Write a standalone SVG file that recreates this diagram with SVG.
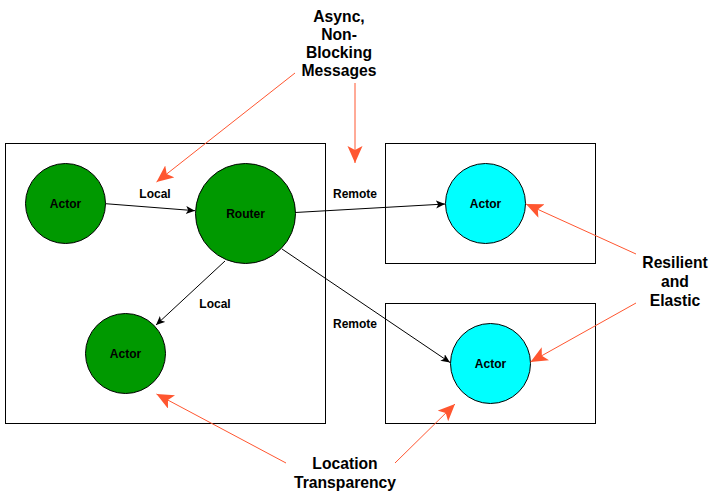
<svg xmlns="http://www.w3.org/2000/svg" width="714" height="497" viewBox="0 0 714 497">
<defs>
<style>
.box{fill:#fff;stroke:#000;stroke-width:1}
.green{fill:#009900;stroke:#000;stroke-width:1}
.cyan{fill:#00ffff;stroke:#000;stroke-width:1}
.lbl{font-family:"Liberation Sans",Arial,sans-serif;font-weight:bold;font-size:12px;fill:#000;text-anchor:middle}
.big{font-family:"Liberation Sans",Arial,sans-serif;font-weight:bold;font-size:15.7px;fill:#000;text-anchor:middle}
.conn{stroke:#000;stroke-width:1;fill:none;marker-end:url(#blk)}
.note{stroke:#FF5630;stroke-width:1;fill:none;marker-end:url(#org)}
</style>
<marker id="blk" markerUnits="userSpaceOnUse" markerWidth="12" markerHeight="12" refX="9" refY="4" orient="auto">
<path d="M0,0 L9,4 L0,8 L2.2,4 Z" fill="#000"/>
</marker>
<marker id="org" markerUnits="userSpaceOnUse" markerWidth="20" markerHeight="18" refX="17" refY="7.5" orient="auto">
<path d="M0,0 L17,7.5 L0,15 L4,7.5 Z" fill="#FF5630"/>
</marker>
</defs>
<rect x="0" y="0" width="714" height="497" fill="#fff"/>
<g id="boxes">
<rect id="box-local" class="box" x="5.5" y="143.5" width="320" height="280"/>
<rect id="box-remote1" class="box" x="385.5" y="143.5" width="210" height="120"/>
<rect id="box-remote2" class="box" x="385.5" y="303.5" width="210" height="120"/>
</g>
<g id="connectors">
<line class="conn" x1="105.5" y1="203.7" x2="195" y2="210.7"/>
<line class="conn" x1="295" y1="212.5" x2="445" y2="204"/>
<line class="conn" x1="225" y1="261" x2="156" y2="325"/>
<line class="conn" x1="282" y1="249" x2="450" y2="362.5"/>
<text class="lbl" x="155" y="197.5">Local</text>
<text class="lbl" x="215" y="307.5">Local</text>
<text class="lbl" x="355" y="197.5">Remote</text>
<text class="lbl" x="355" y="327.5">Remote</text>
</g>
<g id="actor1"><circle class="green" cx="65.5" cy="203.5" r="40"/><text class="lbl" x="65.5" y="208">Actor</text></g>
<g id="router"><circle class="green" cx="245.5" cy="213.5" r="50"/><text class="lbl" x="245.5" y="218">Router</text></g>
<g id="actor2"><circle class="green" cx="125.5" cy="353.5" r="40"/><text class="lbl" x="125.5" y="358">Actor</text></g>
<g id="actor3"><circle class="cyan" cx="485.5" cy="203.5" r="40"/><text class="lbl" x="485.5" y="208">Actor</text></g>
<g id="actor4"><circle class="cyan" cx="490.5" cy="363.5" r="40"/><text class="lbl" x="490.5" y="368">Actor</text></g>
<g id="notes">
<line class="note" x1="295" y1="73" x2="156.5" y2="182"/>
<line class="note" x1="355" y1="83" x2="355" y2="163"/>
<line class="note" x1="636" y1="254" x2="526" y2="204"/>
<line class="note" x1="636" y1="303" x2="530.5" y2="362"/>
<line class="note" x1="286" y1="463" x2="156.5" y2="394"/>
<line class="note" x1="395" y1="463" x2="455" y2="404"/>
</g>
<g id="note-async">
<text class="big" x="339" y="22">Async,</text>
<text class="big" x="339" y="40">Non-</text>
<text class="big" x="339" y="58">Blocking</text>
<text class="big" x="339" y="76">Messages</text>
</g>
<g id="note-resilient">
<text class="big" x="675" y="268">Resilient</text>
<text class="big" x="675" y="287">and</text>
<text class="big" x="675" y="306">Elastic</text>
</g>
<g id="note-location">
<text class="big" x="345" y="469">Location</text>
<text class="big" x="345" y="488">Transparency</text>
</g>
</svg>
